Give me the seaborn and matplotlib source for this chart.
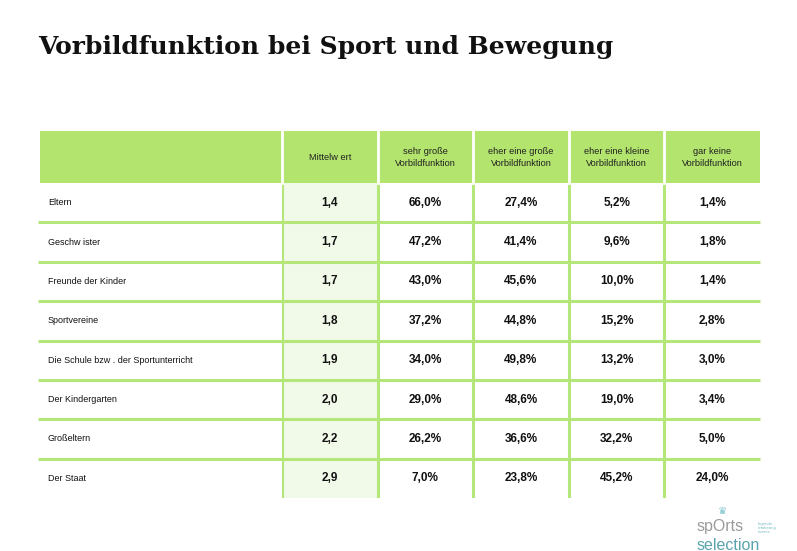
"""
Vorbildfunktion bei Sport und Bewegung - table chart
body cells drawn with seaborn heatmap, header / labels on an overlay axes
"""
import matplotlib
matplotlib.use("Agg")
import matplotlib.pyplot as plt
import numpy as np
import pandas as pd
import seaborn as sns
from matplotlib.colors import ListedColormap
from matplotlib.patches import Rectangle

# ---- data ----
categories = [
    "Eltern",
    "Geschw ister",
    "Freunde der Kinder",
    "Sportvereine",
    "Die Schule bzw . der Sportunterricht",
    "Der Kindergarten",
    "Großeltern",
    "Der Staat",
]
col_headers = [
    "Mittelw ert",
    "sehr große\nVorbildfunktion",
    "eher eine große\nVorbildfunktion",
    "eher eine kleine\nVorbildfunktion",
    "gar keine\nVorbildfunktion",
]
mittelwert = [1.4, 1.7, 1.7, 1.8, 1.9, 2.0, 2.2, 2.9]
sehr_gross = [66.0, 47.2, 43.0, 37.2, 34.0, 29.0, 26.2, 7.0]
eher_gross = [27.4, 41.4, 45.6, 44.8, 49.8, 48.6, 36.6, 23.8]
eher_klein = [5.2, 9.6, 10.0, 15.2, 13.2, 19.0, 32.2, 45.2]
gar_keine = [1.4, 1.8, 1.4, 2.8, 3.0, 3.4, 5.0, 24.0]

HEADER_GREEN = "#b3e46e"
LINE_GREEN = "#b5e67a"
MEAN_FILL = "#f1f9e9"

W, H = 797, 551
# table geometry in pixels
X_LEFT, X_LABEL, X_RIGHT = 40, 282, 760
Y_HEAD, Y_BODY, Y_BOTTOM = 131, 183, 498


def de(v, pct=True):
    s = f"{v:.1f}".replace(".", ",")
    return s + "%" if pct else s


def box(x0, y0, x1, y1):
    return [x0 / W, 1 - y1 / H, (x1 - x0) / W, (y1 - y0) / H]


values = pd.DataFrame(
    {"m": mittelwert, "a": sehr_gross, "b": eher_gross, "c": eher_klein, "d": gar_keine},
    index=categories,
)
annot = values.copy().astype(object)
annot["m"] = [de(v, pct=False) for v in mittelwert]
for c in ["a", "b", "c", "d"]:
    annot[c] = [de(v) for v in values[c]]
shade = pd.DataFrame(0, index=values.index, columns=values.columns)
shade["m"] = 1

fig = plt.figure(figsize=(W / 100, H / 100), dpi=100)
fig.patch.set_facecolor("white")

# body cells
ax_body = fig.add_axes(box(X_LABEL, Y_BODY, X_RIGHT, Y_BOTTOM))
sns.heatmap(
    shade, ax=ax_body, cmap=ListedColormap(["white", MEAN_FILL]), vmin=0, vmax=1,
    cbar=False, annot=annot.values, fmt="", xticklabels=False, yticklabels=False,
    annot_kws={"fontsize": 8.5, "fontweight": "bold", "color": "#111111",
               "family": "Liberation Sans"},
)
for j in range(len(col_headers)):
    ax_body.axvline(j, color=LINE_GREEN, lw=2.2, zorder=5)
ax_body.set_xlabel("")
ax_body.set_ylabel("")

# overlay in pixel coords: header, labels, row lines, title, logo
ax = fig.add_axes([0, 0, 1, 1], zorder=3)
ax.set_xlim(0, W)
ax.set_ylim(H, 0)
ax.axis("off")
ax.patch.set_alpha(0)

n_rows = len(categories)
row_h = (Y_BOTTOM - Y_BODY) / n_rows
col_w = (X_RIGHT - X_LABEL) / len(col_headers)
col_edges = [X_LABEL + j * col_w for j in range(len(col_headers) + 1)]

ax.add_patch(Rectangle((X_LEFT, Y_HEAD), X_RIGHT - X_LEFT, Y_BODY - Y_HEAD,
                       facecolor=HEADER_GREEN, edgecolor="none"))
for x in col_edges[:-1]:
    ax.plot([x, x], [Y_HEAD, Y_BODY], color="white", lw=2.0)
for j, h in enumerate(col_headers):
    ax.text((col_edges[j] + col_edges[j + 1]) / 2, (Y_HEAD + Y_BODY) / 2 + 0.5, h,
            ha="center", va="center", fontsize=6.7, color="#222222",
            family="Liberation Sans", linespacing=1.45)

for i, name in enumerate(categories):
    ax.text(48, Y_BODY + (i + 0.5) * row_h, name, ha="left", va="center",
            fontsize=6.5, color="#111111", family="Liberation Sans")
for i in range(1, n_rows):
    y = Y_BODY + i * row_h
    ax.plot([38, X_RIGHT], [y, y], color=LINE_GREEN, lw=2.2, solid_capstyle="butt")

ax.text(38, 47, "Vorbildfunktion bei Sport und Bewegung", ha="left", va="center",
        fontsize=18.0, fontweight="bold", family="DejaVu Serif", color="#111111")

# logo
ax.text(722, 511, "♛", ha="center", va="center", fontsize=7.5, color="#7fc4cc",
        family="DejaVu Sans")
ax.text(697, 531, "spOrts", ha="left", va="baseline", fontsize=11.5,
        color="#9a9a9a", family="Liberation Sans")
ax.text(697, 549.5, "selection", ha="left", va="baseline", fontsize=11.5,
        color="#5aa4ad", family="Liberation Sans")
ax.text(758, 528, "legends\nmarketing\nevents", ha="left", va="center",
        fontsize=3.2, color="#7fbfc6", family="Liberation Sans", linespacing=1.0)

fig.savefig("out.png", dpi=100, facecolor="white")
